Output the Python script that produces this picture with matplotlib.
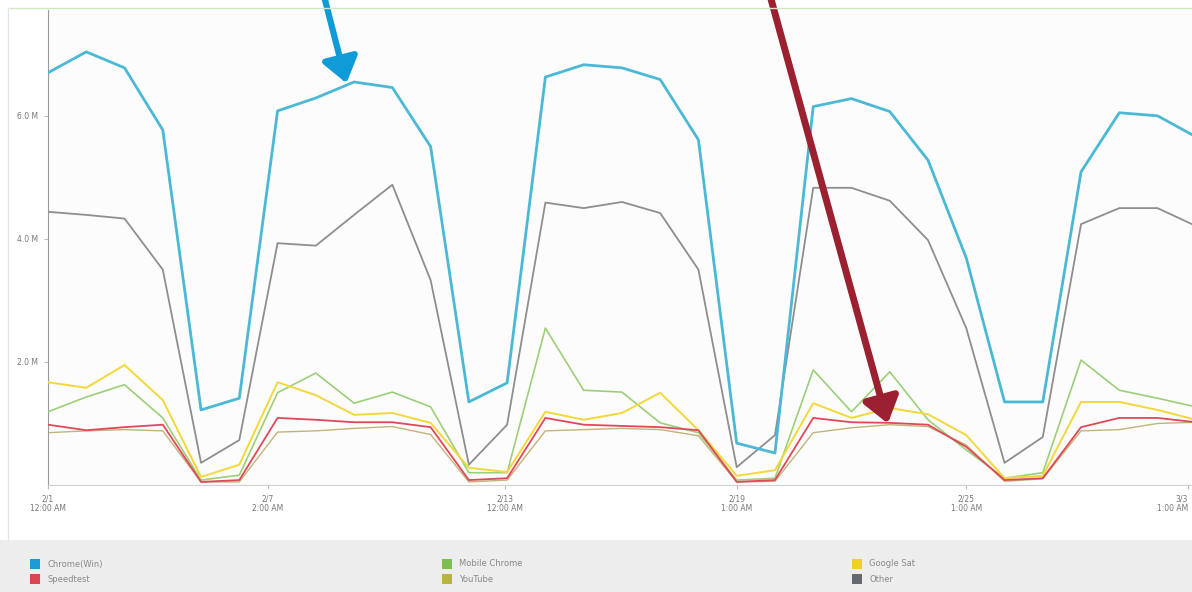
import matplotlib.pyplot as plt
import numpy as np
from matplotlib.lines import Line2D
from matplotlib.patches import Rectangle

# one point per day, values in millions
days = np.arange(31)

chrome = [6.70, 7.04, 6.78, 5.77, 1.22, 1.41, 6.08, 6.29, 6.55, 6.46, 5.50,
          1.35, 1.66, 6.63, 6.83, 6.78, 6.59, 5.61, 0.68, 0.52, 6.15, 6.28,
          6.07, 5.28, 3.69, 1.35, 1.35, 5.09, 6.05, 6.00, 5.66]
other = [4.44, 4.39, 4.33, 3.50, 0.36, 0.73, 3.93, 3.89, 4.39, 4.88, 3.33,
         0.33, 0.98, 4.59, 4.50, 4.60, 4.42, 3.50, 0.29, 0.81, 4.83, 4.83,
         4.62, 3.98, 2.55, 0.36, 0.78, 4.24, 4.50, 4.50, 4.21]
google_sat = [1.67, 1.58, 1.95, 1.38, 0.13, 0.33, 1.67, 1.46, 1.14, 1.17, 1.01,
              0.28, 0.21, 1.19, 1.06, 1.17, 1.50, 0.89, 0.15, 0.24, 1.33, 1.09,
              1.25, 1.15, 0.81, 0.11, 0.15, 1.35, 1.35, 1.22, 1.06]
mobile_chrome = [1.19, 1.43, 1.63, 1.09, 0.08, 0.16, 1.50, 1.82, 1.33, 1.51, 1.27,
                 0.20, 0.20, 2.55, 1.54, 1.51, 1.01, 0.85, 0.08, 0.11, 1.87, 1.19,
                 1.84, 1.06, 0.57, 0.11, 0.20, 2.03, 1.54, 1.41, 1.27]
speedtest = [0.98, 0.89, 0.94, 0.98, 0.05, 0.08, 1.09, 1.06, 1.02, 1.02, 0.94,
             0.08, 0.11, 1.09, 0.98, 0.96, 0.94, 0.89, 0.05, 0.08, 1.09, 1.02,
             1.01, 0.98, 0.62, 0.08, 0.11, 0.94, 1.09, 1.09, 1.02]
youtube = [0.85, 0.88, 0.90, 0.88, 0.05, 0.05, 0.86, 0.88, 0.92, 0.95, 0.82,
           0.05, 0.08, 0.88, 0.90, 0.92, 0.90, 0.80, 0.05, 0.06, 0.85, 0.93,
           0.98, 0.95, 0.65, 0.06, 0.10, 0.88, 0.90, 1.00, 1.02]

tick_pos = [0, 5.75, 11.95, 18, 24, 29.8]
tick_labels = ["2/1\n12:00 AM", "2/7\n2:00 AM", "2/13\n12:00 AM",
               "2/19\n1:00 AM", "2/25\n1:00 AM", "3/3\n1:00 AM"]
y_ticks = [2, 4, 6]

# (label, data, line colour, legend swatch colour, line width, draw order)
series = [
    ("Chrome(Win)", chrome, "#4bb8d6", "#1c9ad6", 2.0, 6),
    ("Speedtest", speedtest, "#e0485a", "#d9444f", 1.3, 4),
    ("Mobile Chrome", mobile_chrome, "#9ccf78", "#7dbf4a", 1.2, 3),
    ("YouTube", youtube, "#c2b478", "#b5b540", 1.0, 2),
    ("Google Sat", google_sat, "#f4d83a", "#f0d020", 1.4, 3),
    ("Other", other, "#8e8e8e", "#666a70", 1.3, 5),
]


def main():
    fig = plt.figure(figsize=(11.92, 5.92), dpi=100)
    fig.patch.set_facecolor("white")

    # legend band at the bottom
    fig.add_artist(Rectangle((0.0, 0.0), 1.0, 52 / 592, transform=fig.transFigure,
                             facecolor="#ededed", edgecolor="none", zorder=0))
    # thin frame lines
    fig.add_artist(Line2D([10 / 1192, 1.0], [1 - 8 / 592, 1 - 8 / 592],
                          transform=fig.transFigure, color="#cfe8c4", lw=1))
    fig.add_artist(Line2D([8 / 1192, 8 / 1192], [52 / 592, 1 - 8 / 592],
                          transform=fig.transFigure, color="#e4e4e4", lw=1))

    ax = fig.add_axes([48 / 1192, 107 / 592, 1 - 48 / 1192, 475 / 592])
    ax.set_facecolor("#fcfcfc")

    for label, values, color, _, lw, z in series:
        ax.plot(days, values, color=color, lw=lw, zorder=z)

    ax.set_xlim(0, 29.9)
    ax.set_ylim(0, 7.72)

    ax.set_xticks(tick_pos)
    ax.set_xticklabels(tick_labels, fontsize=5.5, color="#777777", linespacing=1.1)
    ax.get_xticklabels()[-1].set_horizontalalignment("right")
    ax.set_yticks(y_ticks)
    ax.set_yticklabels([f"{v:.1f} M" for v in y_ticks], fontsize=5.5, color="#777777")
    ax.tick_params(axis="both", length=3, color="#bbbbbb", pad=4)

    for side in ["top", "right"]:
        ax.spines[side].set_visible(False)
    ax.spines["left"].set_color("#9a9a9a")
    ax.spines["bottom"].set_color("#d0d0d0")

    # legend: 3 columns, 2 rows
    col_x = [35 / 1192, 447 / 1192, 857 / 1192]
    row_y = [1 - 564 / 592, 1 - 579 / 592]
    for i, (label, _, _, swatch, _, _) in enumerate(series):
        x = col_x[i // 2]
        y = row_y[i % 2]
        fig.add_artist(Rectangle((x - 5 / 1192, y - 5 / 592), 10 / 1192, 10 / 592,
                                 transform=fig.transFigure, facecolor=swatch,
                                 edgecolor="none"))
        fig.text(x + 12 / 1192, y, label, fontsize=6, color="#888888", va="center")

    # callout arrows
    ax.annotate("", xy=(7.8, 6.53), xycoords="data",
                xytext=(322 / 1192, 1.02), textcoords="figure fraction",
                arrowprops=dict(arrowstyle="-|>,head_length=1.5,head_width=1.1",
                                color="#0e9bd8", lw=4.5, shrinkA=0, shrinkB=0),
                annotation_clip=False, zorder=10)
    ax.annotate("", xy=(21.95, 1.0), xycoords="data",
                xytext=(768 / 1192, 1.02), textcoords="figure fraction",
                arrowprops=dict(arrowstyle="-|>,head_length=1.5,head_width=1.1",
                                color="#9b2030", lw=5, shrinkA=0, shrinkB=0),
                annotation_clip=False, zorder=10)

    plt.savefig("out.png", dpi=100)
    plt.close()


if __name__ == "__main__":
    main()
